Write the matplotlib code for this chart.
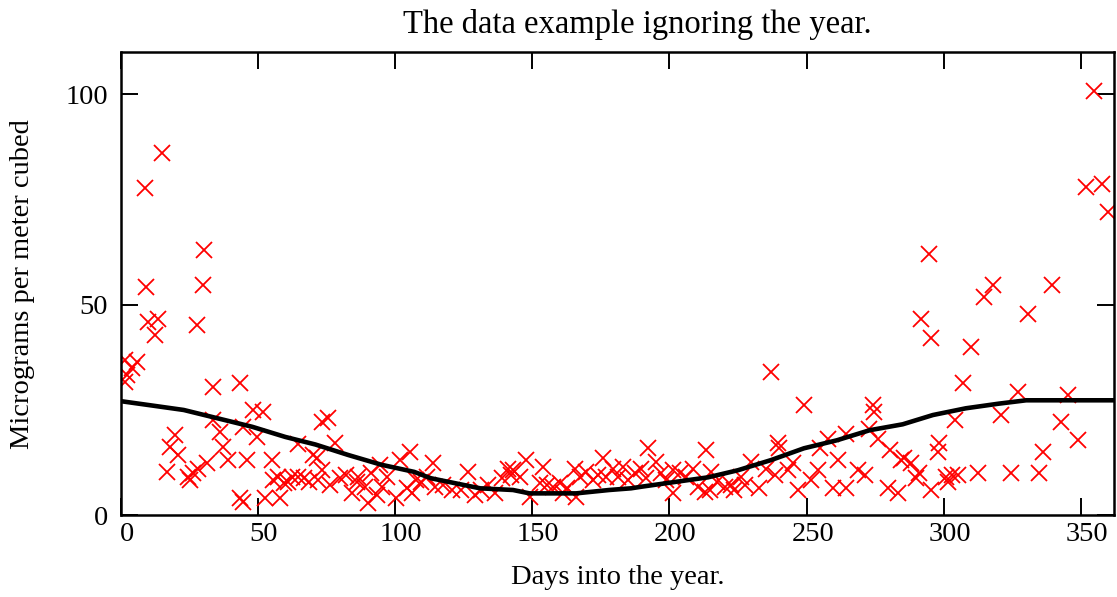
import matplotlib
matplotlib.use("Agg")
import matplotlib.pyplot as plt
import matplotlib.transforms as mtransforms

# Daily measurements, plotted by day of year (year ignored)
days = [1.5, 1.6, 2.2, 4.0, 5.8, 8.9, 9.2, 10.0, 12.4, 13.6, 15.1,
        16.8, 18.0, 19.8, 21.0, 24.5, 25.2, 26.4, 27.7, 28.2, 30.1, 30.4,
        31.3, 33.8, 33.8, 36.2, 37.4, 39.2, 43.5, 43.5, 44.7, 44.7, 45.9,
        48.3, 49.6, 52.0, 52.6, 55.0, 55.6, 57.3, 58.0, 59.5, 61.0, 62.5,
        64.7, 64.6, 67.0, 68.5, 70.0, 71.4, 72.0, 73.2, 73.2, 75.6, 76.3,
        78.0, 79.9, 82.3, 84.2, 86.0, 86.6, 89.0, 90.2, 91.4, 93.3, 94.5,
        95.1, 96.9, 100.5, 101.7, 104.2, 105.4, 106.0, 107.8, 109.6, 111.5,
        113.9, 114.5, 117.5, 120.6, 124.2, 126.6, 129.1, 131.5, 133.9,
        136.3, 138.8, 141.2, 142.4,
        143.0, 145.4, 147.9, 149.1, 152.7, 153.9, 155.2, 157.6, 160.0,
        161.2, 162.5, 165.5, 166.1, 167.3, 169.7, 172.1, 174.0, 175.8,
        177.0, 179.4, 181.3, 183.1, 184.9, 187.3, 189.8, 191.6, 192.2,
        195.2, 197.1, 198.9, 201.3, 201.3, 203.7, 206.2, 208.6, 210.4,
        212.8, 213.4,
        215.3, 214.6, 217.5, 220.1, 222.5, 223.7, 226.2, 227.4, 229.8,
        232.8, 235.3, 237.1, 238.3, 239.5, 240.1, 243.2, 245.0, 246.8,
        249.2, 251.7, 254.1, 254.7, 257.7, 259.5, 261.4, 264.4, 264.4,
        268.7, 271.1, 272.9, 274.1, 274.7, 275.9, 279.6, 280.2, 283.2,
        284.5, 285.6, 288.1, 289.9, 291.1, 291.7, 294.6, 295.4, 295.4,
        297.8, 298.4, 300.8, 301.6, 303.0, 303.9, 305.0, 306.9, 310.0,
        312.3, 314.8, 317.8, 320.9, 324.5, 326.9, 330.6, 334.8, 336.0,
        339.5, 342.7, 345.1, 348.8, 351.8, 354.8, 357.6, 359.7]

values = [36.8, 31.6, 33.3, 34.9, 36.4, 77.8, 54.2, 45.9, 42.7, 46.7, 86.1,
          10.3, 16.3, 19.0, 14.3, 9.1, 8.4, 10.0, 45.1, 11.1, 54.6, 63.1,
          12.3, 30.5, 22.6, 19.8, 16.3, 13.1, 31.3, 4.0, 3.2, 21.0, 13.1,
          25.0, 18.6, 24.5, 4.0, 13.1, 8.4, 9.1, 4.0, 7.6, 8.0, 9.0,
          17.0, 9.1, 8.8, 7.8, 14.3, 13.5, 8.4, 22.2, 10.7, 23.0, 7.2,
          17.1, 8.8, 9.5, 5.2, 8.0, 9.1, 6.8, 2.8, 10.0, 4.8, 11.9,
          6.8, 9.1, 4.0, 13.1, 6.4, 15.1, 5.2, 8.4, 8.0, 9.1,
          12.3, 6.8, 7.2, 6.0, 6.0, 10.3, 4.8, 6.0, 7.2,
          5.2, 8.8, 11.1, 9.5,
          10.7, 9.1, 13.1, 4.4, 7.6, 11.5, 7.2, 6.8, 7.6,
          5.2, 6.4, 11.1, 4.4, 9.1, 10.3, 8.4, 9.5, 13.5,
          9.1, 11.1, 9.1, 11.5, 8.4, 10.0, 11.1, 8.8, 15.9,
          12.7, 10.0, 8.4, 10.7, 5.2, 10.0, 9.1, 11.1, 6.8,
          5.6, 15.5,
          10.3, 6.0, 8.0, 6.8, 7.2, 6.0, 9.1, 7.2, 12.7,
          6.4, 11.1, 34.0, 9.5, 17.1, 15.9, 10.7, 12.3, 6.0,
          26.1, 8.4, 10.7, 15.9, 18.2, 6.4, 13.1, 19.4, 6.4,
          10.7, 9.5, 20.6, 26.1, 24.6, 18.2, 6.4, 15.5, 5.2,
          13.1, 13.5, 12.3, 8.8, 10.0, 46.7, 62.0, 42.2, 6.0,
          15.1, 17.1, 9.1, 8.0, 9.5, 22.6, 9.5, 31.3, 40.0,
          10.0, 51.8, 54.6, 23.8, 10.0, 29.3, 47.9, 10.0, 15.1,
          54.6, 22.2, 28.5, 17.8, 77.9, 100.8, 78.7, 72.0]

# Smoothed seasonal trend
trend_days = [0, 11, 23, 33, 48, 60, 71, 83, 95, 107, 113, 125, 131, 143,
              149, 154, 166, 178, 186, 190, 203, 214, 225, 237, 249, 261,
              273, 285, 296, 308, 320, 330, 362]
trend_vals = [27.1, 26.1, 25.0, 23.4, 21.0, 18.6, 16.8, 14.3, 12.0, 10.3,
              8.8, 7.2, 6.4, 6.0, 5.2, 5.2, 5.2, 6.0, 6.4, 6.8, 8.0, 9.0,
              10.7, 13.1, 15.9, 17.8, 20.2, 21.6, 23.8, 25.4, 26.5, 27.3,
              27.3]

x_ticks = [0, 50, 100, 150, 200, 250, 300, 350]
y_ticks = [0, 50, 100]

plt.rcParams["font.family"] = ["Liberation Serif", "DejaVu Serif"]

fig = plt.figure(figsize=(11.17, 5.97), dpi=100)
ax = fig.add_axes([0.108, 0.1369, 0.8893, 0.776])

ax.plot(days, values, linestyle="none", marker="x", color="#ff0000",
        markersize=11.5, markeredgewidth=1.3, clip_on=True, zorder=2)
ax.plot(trend_days, trend_vals, color="black", linewidth=3.3,
        solid_capstyle="butt", zorder=3)

ax.set_xlim(0, 362)
ax.set_ylim(0, 110)
ax.set_xticks(x_ticks)
ax.set_yticks(y_ticks)
ax.tick_params(axis="both", which="major", direction="in", length=12,
               width=1.4, top=True, right=True, labelsize=20.5)
ax.tick_params(axis="x", pad=5)
ax.tick_params(axis="y", pad=9)
for s in ax.spines.values():
    s.set_linewidth(1.8)

# x tick labels sit a little to the right of their ticks
shift = mtransforms.ScaledTranslation(6 / 100, 0, fig.dpi_scale_trans)
for lbl in ax.get_xticklabels():
    lbl.set_transform(lbl.get_transform() + shift)

ax.set_title("The data example ignoring the year.", fontsize=23.5,
             pad=14, x=0.52)
ax.set_xlabel("Days into the year.", fontsize=20.5, labelpad=13)
ax.set_ylabel("Micrograms per meter cubed", fontsize=20.5, labelpad=22)

fig.savefig("out.png", dpi=100)
